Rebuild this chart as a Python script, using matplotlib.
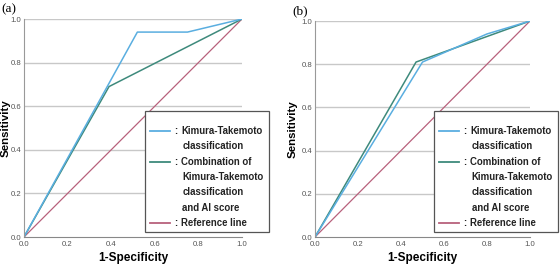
import numpy as np
import matplotlib.pyplot as plt
from matplotlib.lines import Line2D
from matplotlib.patches import Rectangle

# curvas ROC
kt_a_x = [0.0, 0.52, 0.75, 1.0]
kt_a_y = [0.0, 0.94, 0.94, 1.0]
comb_a_x = [0.0, 0.39, 1.0]
comb_a_y = [0.0, 0.69, 1.0]

kt_b_x = [0.0, 0.50, 0.80, 1.0]
kt_b_y = [0.0, 0.81, 0.94, 1.0]
comb_b_x = [0.0, 0.47, 1.0]
comb_b_y = [0.0, 0.81, 1.0]

ref_x = [0.0, 1.0]
ref_y = [0.0, 1.0]

ticks = [0.0, 0.2, 0.4, 0.6, 0.8, 1.0]
tick_labels = ['0.0', '0.2', '0.4', '0.6', '0.8', '1.0']
panel_names = ['(a)', '(b)']

c_kt = '#5aaee0'
c_comb = '#3e8a7c'
c_ref = '#b8617c'

leg_rows = [
    (c_kt, ['Kimura-Takemoto', 'classification']),
    (c_comb, ['Combination of', 'Kimura-Takemoto', 'classification', 'and AI score']),
    (c_ref, ['Reference line']),
]

W, H = 560, 265
fig = plt.figure(figsize=(W / 100, H / 100), dpi=100)
plt.rcParams['font.family'] = ['Liberation Sans', 'DejaVu Sans']


def fx(px):
    return px / W


def fy(py):
    return 1 - py / H


def panel(box, kx, ky, cx, cy, name, leg_left, leg_right, ylab_px):
    l, t, r, b = box
    ax = fig.add_axes([fx(l), fy(b), fx(r) - fx(l), fy(t) - fy(b)])
    ax.set_xlim(0, 1)
    ax.set_ylim(0, 1)
    for y in ticks[1:]:
        ax.axhline(y, color='#c8c8c8', lw=1.0, zorder=0)
    ax.plot(ref_x, ref_y, color=c_ref, lw=0.9)
    ax.plot(cx, cy, color=c_comb, lw=1.1)
    ax.plot(kx, ky, color=c_kt, lw=1.1)
    ax.set_xticks(ticks, tick_labels)
    ax.set_yticks(ticks, tick_labels)
    ax.tick_params(length=0, labelsize=5.6, labelcolor='#555555')
    ax.tick_params(axis='x', pad=3)
    ax.tick_params(axis='y', pad=2)
    ax.spines['top'].set_visible(False)
    ax.spines['right'].set_visible(False)
    ax.spines['left'].set_color('#999999')
    ax.spines['bottom'].set_color('#888888')
    ax.set_xlabel('1-Specificity', fontsize=8.5, fontweight='bold')
    ax.set_ylabel('Sensitivity', fontsize=8.2, fontweight='bold')
    ax.xaxis.set_label_coords(0.5, (b - 252) / (b - t))
    ax.yaxis.set_label_coords((ylab_px - l) / (r - l), 0.5)
    fig.text(fx(l - 23), fy(t - 10), name, family='Liberation Serif', fontsize=9.5,
             va='center', ha='left')

    # cuadro de leyenda
    top, bot = 111, 232
    fig.patches.append(Rectangle((fx(leg_left), fy(bot)), fx(leg_right) - fx(leg_left),
                                 fy(top) - fy(bot), transform=fig.transFigure,
                                 fill=True, facecolor='white', edgecolor='#555555',
                                 lw=0.9, zorder=5))
    yrow = 131
    step = 15.3
    for col, lines in leg_rows:
        fig.lines.append(Line2D([fx(leg_left + 5), fx(leg_left + 25)], [fy(yrow), fy(yrow)],
                                transform=fig.transFigure, color=col, lw=1.3, zorder=6))
        fig.text(fx(leg_left + 29), fy(yrow), ':', fontsize=6.9, fontweight='bold',
                 va='center', ha='left', color='#222222', zorder=7)
        for i, s in enumerate(lines):
            xx = leg_left + 36 if i == 0 else leg_left + 37.5
            fig.text(fx(xx), fy(yrow), s, fontsize=6.9, fontweight='bold',
                     va='center', ha='left', color='#222222', zorder=7)
            yrow += step
    return ax


panel((24, 19, 242, 237), kt_a_x, kt_a_y, comb_a_x, comb_a_y, panel_names[0], 145, 269, 10.5)
panel((315, 21, 530, 237), kt_b_x, kt_b_y, comb_b_x, comb_b_y, panel_names[1], 434, 558, 297.5)

fig.savefig('out.png', dpi=100)
